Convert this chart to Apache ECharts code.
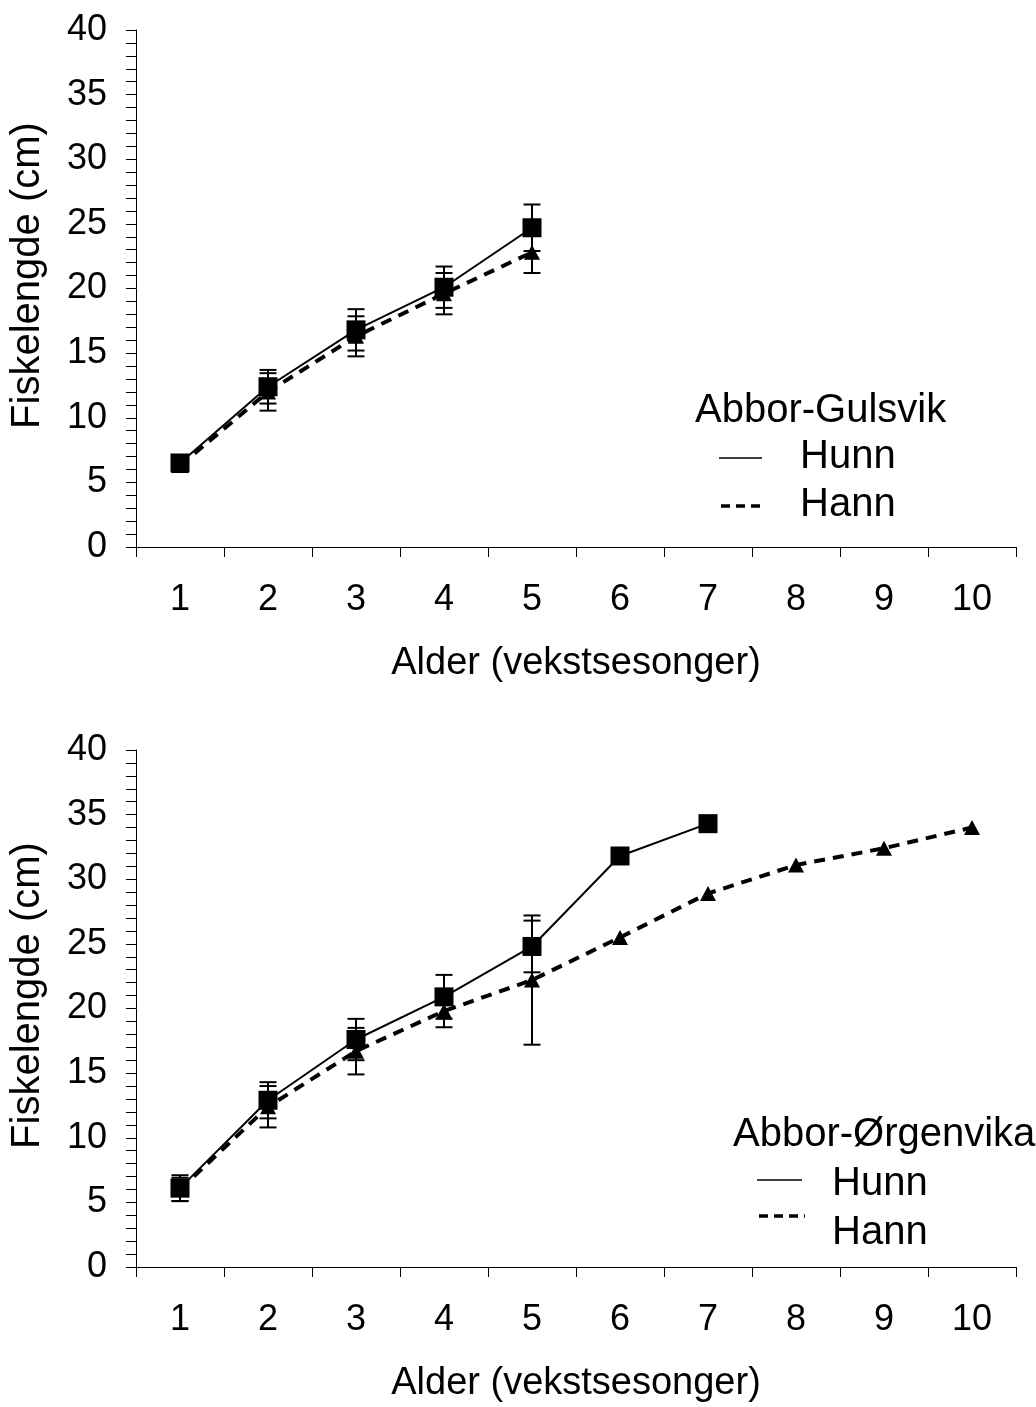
<!DOCTYPE html>
<html>
<head>
<meta charset="utf-8">
<title>Fiskelengde etter alder – abbor</title>
<script src="https://cdn.jsdelivr.net/npm/echarts@6/dist/echarts.min.js"></script>
<style>
  html, body { margin: 0; padding: 0; background: #fff; }
  #chart { width: 1036px; height: 1407px; }
</style>
</head>
<body>
<div id="chart"></div>
<script>
// Alder (vekstsesonger) på x-aksen
const ages = ['1', '2', '3', '4', '5', '6', '7', '8', '9', '10'];

// Abbor-Gulsvik: gjennomsnittlig lengde (cm) og standardavvik
const gulsvikHunn = [6.5, 12.4, 16.8, 20.1, 24.7];
const gulsvikHunnSd = [0.6, 1.3, 1.6, 1.6, 1.8];
const gulsvikHann = [6.3, 12.0, 16.3, 19.6, 22.8];
const gulsvikHannSd = [0.5, 1.45, 1.55, 1.6, 1.6];

// Abbor-Ørgenvika: gjennomsnittlig lengde (cm) og standardavvik
const orgenvikaHunn = [6.1, 12.9, 17.6, 20.9, 24.8, 31.8, 34.3];
const orgenvikaHunnSd = [1.0, 1.4, 1.6, 1.7, 2.0, null, null];
const orgenvikaHann = [6.0, 12.4, 16.7, 19.8, 22.2, 25.5, 28.9, 31.1, 32.4, 34.0];
const orgenvikaHannSd = [0.9, 1.6, 1.8, 1.25, 5.0, null, null, null, null, null];

const FONT = "'Liberation Sans', Arial, Helvetica, sans-serif";

// [kategori-indeks, nedre, øvre] for feilstolpene
function errorData(means, sds) {
  const out = [];
  means.forEach((m, i) => {
    const sd = sds[i];
    if (sd != null) out.push([i, m - sd, m + sd]);
  });
  return out;
}

function renderErrorBar(params, api) {
  const x = api.value(0);
  const lo = api.coord([x, api.value(1)]);
  const hi = api.coord([x, api.value(2)]);
  const half = 8.5;
  const style = { stroke: '#000', lineWidth: 2, fill: null };
  return {
    type: 'group',
    children: [
      { type: 'line', shape: { x1: lo[0], y1: lo[1], x2: hi[0], y2: hi[1] }, style },
      { type: 'line', shape: { x1: hi[0] - half, y1: hi[1], x2: hi[0] + half, y2: hi[1] }, style },
      { type: 'line', shape: { x1: lo[0] - half, y1: lo[1], x2: lo[0] + half, y2: lo[1] }, style }
    ]
  };
}

function makeXAxis(gridIndex) {
  return {
    type: 'category',
    gridIndex,
    data: ages,
    boundaryGap: true,
    name: 'Alder (vekstsesonger)',
    nameLocation: 'middle',
    nameGap: 98,
    nameTextStyle: { fontFamily: FONT, fontSize: 38, color: '#000' },
    axisLine: { show: true, onZero: false, lineStyle: { color: '#000', width: 1 } },
    axisTick: { show: true, length: 10, alignWithLabel: false, lineStyle: { color: '#000' } },
    axisLabel: { fontFamily: FONT, fontSize: 36, color: '#000', margin: 35, interval: 0 },
    splitLine: { show: false }
  };
}

function makeYAxis(gridIndex) {
  return {
    type: 'value',
    gridIndex,
    min: 0,
    max: 40,
    interval: 5,
    name: 'Fiskelengde (cm)',
    nameLocation: 'middle',
    nameGap: 88,
    nameTextStyle: { fontFamily: FONT, fontSize: 40, color: '#000', padding: [0, 0, 0, 26] },
    axisLine: { show: true, lineStyle: { color: '#000', width: 1 } },
    axisTick: { show: true, length: 10, lineStyle: { color: '#000' } },
    minorTick: { show: true, splitNumber: 5, length: 10, lineStyle: { color: '#000' } },
    axisLabel: { fontFamily: FONT, fontSize: 36, color: '#000', margin: 29 },
    splitLine: { show: false },
    minorSplitLine: { show: false }
  };
}

function hunnSeries(data, idx) {
  return {
    type: 'line',
    name: 'Hunn',
    xAxisIndex: idx,
    yAxisIndex: idx,
    data,
    symbol: 'rect',
    symbolSize: 19,
    itemStyle: { color: '#000' },
    lineStyle: { color: '#000', width: 2 },
    z: 4,
    animation: false
  };
}

function hannSeries(data, idx) {
  return {
    type: 'line',
    name: 'Hann',
    xAxisIndex: idx,
    yAxisIndex: idx,
    data,
    symbol: 'triangle',
    symbolSize: [16, 15],
    itemStyle: { color: '#000' },
    lineStyle: { color: '#000', width: 4, type: [11, 8] },
    z: 3,
    animation: false
  };
}

function errorSeries(means, sds, idx) {
  return {
    type: 'custom',
    xAxisIndex: idx,
    yAxisIndex: idx,
    data: errorData(means, sds),
    renderItem: renderErrorBar,
    encode: { x: 0, y: [1, 2] },
    z: 5,
    silent: true,
    animation: false
  };
}

function legendBlock(title, x0, yTitle, yHunn, yHann, lineX1, lineX2, textX) {
  const textStyle = (t, x, y) => ({
    type: 'text',
    x, y,
    style: {
      text: t, fill: '#000', font: '40px ' + FONT,
      fontFamily: FONT, fontSize: 40,
      align: 'left', verticalAlign: 'middle',
      textAlign: 'left', textVerticalAlign: 'middle'
    }
  });
  return [
    textStyle(title, x0, yTitle),
    {
      type: 'line',
      shape: { x1: lineX1, y1: yHunn.line, x2: lineX2, y2: yHunn.line },
      style: { stroke: '#000', lineWidth: 1.5 }
    },
    textStyle('Hunn', textX, yHunn.text),
    {
      type: 'line',
      shape: { x1: lineX1 + 2, y1: yHann.line, x2: lineX2 + 3, y2: yHann.line },
      style: { stroke: '#000', lineWidth: 3.5, lineDash: [9, 6] }
    },
    textStyle('Hann', textX, yHann.text)
  ];
}

const chart = echarts.init(document.getElementById('chart'), null, { renderer: 'canvas' });

chart.setOption({
  backgroundColor: '#fff',
  animation: false,
  grid: [
    { left: 136, top: 30, width: 880, height: 517 },
    { left: 136, top: 750, width: 880, height: 517 }
  ],
  xAxis: [makeXAxis(0), makeXAxis(1)],
  yAxis: [makeYAxis(0), makeYAxis(1)],
  series: [
    hannSeries(gulsvikHann, 0),
    hunnSeries(gulsvikHunn, 0),
    errorSeries(gulsvikHann, gulsvikHannSd, 0),
    errorSeries(gulsvikHunn, gulsvikHunnSd, 0),
    hannSeries(orgenvikaHann, 1),
    hunnSeries(orgenvikaHunn, 1),
    errorSeries(orgenvikaHann, orgenvikaHannSd, 1),
    errorSeries(orgenvikaHunn, orgenvikaHunnSd, 1)
  ],
  graphic: [
    ...legendBlock('Abbor-Gulsvik', 695, 411,
      { line: 458, text: 457 }, { line: 506, text: 505 }, 719, 762, 800),
    ...legendBlock('Abbor-Ørgenvika', 733, 1135,
      { line: 1180, text: 1184 }, { line: 1216, text: 1233 }, 757, 802, 832)
  ]
});
</script>
</body>
</html>
